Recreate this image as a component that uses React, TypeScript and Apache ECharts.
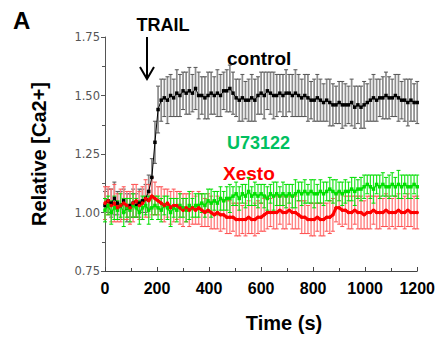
import React, { useEffect, useRef } from "react";
import * as echarts from "echarts";

const times: number[] = Array.from({ length: 101 }, (_, i) => i * 12);

const controlMean = [
  1.03, 1.05, 1.04, 1.06, 1.04, 1.03, 1.05, 1.02, 1.03, 1.04,
  1.03, 1.04, 1.05, 1.06, 1.09, 1.15, 1.30, 1.44, 1.48, 1.49,
  1.48, 1.50, 1.49, 1.51, 1.50, 1.52, 1.51, 1.52, 1.51, 1.53,
  1.50, 1.50, 1.49, 1.50, 1.51, 1.50, 1.51, 1.50, 1.52, 1.52,
  1.53, 1.51, 1.49, 1.48, 1.49, 1.48, 1.48, 1.49, 1.48, 1.50,
  1.51, 1.50, 1.52, 1.51, 1.50, 1.50, 1.51, 1.50, 1.51, 1.51,
  1.50, 1.51, 1.50, 1.49, 1.50, 1.49, 1.48, 1.48, 1.49, 1.48,
  1.47, 1.48, 1.47, 1.46, 1.46, 1.47, 1.46, 1.46, 1.46, 1.47,
  1.45, 1.46, 1.45, 1.46, 1.47, 1.48, 1.49, 1.48, 1.49, 1.49,
  1.50, 1.49, 1.49, 1.50, 1.49, 1.48, 1.48, 1.47, 1.48, 1.47,
  1.47,
];
const controlErr = [
  0.06, 0.05, 0.06, 0.07, 0.05, 0.06, 0.05, 0.06, 0.05, 0.06,
  0.05, 0.06, 0.05, 0.06, 0.07, 0.08, 0.09, 0.10, 0.09, 0.08,
  0.10, 0.09, 0.08, 0.10, 0.09, 0.08, 0.09, 0.10, 0.08, 0.09,
  0.10, 0.08, 0.09, 0.10, 0.09, 0.08, 0.10, 0.09, 0.08, 0.09,
  0.10, 0.09, 0.08, 0.09, 0.10, 0.08, 0.09, 0.10, 0.09, 0.08,
  0.09, 0.10, 0.08, 0.09, 0.10, 0.09, 0.08, 0.09, 0.10, 0.08,
  0.09, 0.10, 0.09, 0.08, 0.09, 0.10, 0.08, 0.09, 0.10, 0.09,
  0.08, 0.09, 0.10, 0.09, 0.08, 0.09, 0.10, 0.09, 0.08, 0.10,
  0.09, 0.08, 0.09, 0.10, 0.08, 0.09, 0.10, 0.09, 0.08, 0.09,
  0.10, 0.09, 0.08, 0.09, 0.10, 0.08, 0.09, 0.10, 0.09, 0.08,
  0.09,
];

const u73122Mean = [
  1.01, 1.03, 1.00, 1.02, 1.01, 1.03, 1.00, 1.02, 1.01, 1.03,
  1.02, 1.00, 1.02, 1.03, 1.01, 1.02, 1.03, 1.02, 1.01, 1.03,
  1.02, 1.00, 1.02, 1.01, 1.03, 1.02, 1.01, 1.03, 1.02, 1.03,
  1.03, 1.04, 1.03, 1.05, 1.04, 1.05, 1.04, 1.06, 1.05, 1.06,
  1.06, 1.07, 1.08, 1.06, 1.08, 1.07, 1.09, 1.07, 1.08, 1.07,
  1.08, 1.07, 1.06, 1.08, 1.07, 1.08, 1.07, 1.08, 1.07, 1.08,
  1.07, 1.08, 1.09, 1.08, 1.09, 1.08, 1.09, 1.08, 1.08, 1.09,
  1.08, 1.09, 1.10, 1.09, 1.08, 1.09, 1.08, 1.09, 1.09, 1.10,
  1.09, 1.10, 1.10, 1.11, 1.12, 1.11, 1.10, 1.12, 1.11, 1.12,
  1.11, 1.11, 1.12, 1.11, 1.12, 1.11, 1.12, 1.11, 1.11, 1.12,
  1.11,
];
const u73122Err = [
  0.05, 0.04, 0.05, 0.05, 0.04, 0.05, 0.06, 0.04, 0.05, 0.05,
  0.04, 0.05, 0.05, 0.04, 0.06, 0.05, 0.04, 0.05, 0.05, 0.04,
  0.05, 0.06, 0.04, 0.05, 0.05, 0.04, 0.05, 0.06, 0.04, 0.05,
  0.05, 0.04, 0.05, 0.05, 0.06, 0.04, 0.05, 0.05, 0.04, 0.05,
  0.06, 0.04, 0.05, 0.05, 0.04, 0.05, 0.06, 0.04, 0.05, 0.05,
  0.04, 0.05, 0.05, 0.04, 0.06, 0.05, 0.04, 0.05, 0.05, 0.04,
  0.05, 0.06, 0.04, 0.05, 0.05, 0.04, 0.05, 0.06, 0.04, 0.05,
  0.05, 0.04, 0.05, 0.05, 0.06, 0.04, 0.05, 0.05, 0.04, 0.05,
  0.06, 0.04, 0.05, 0.05, 0.04, 0.05, 0.06, 0.04, 0.05, 0.05,
  0.04, 0.05, 0.05, 0.04, 0.06, 0.05, 0.04, 0.05, 0.05, 0.04,
  0.05,
];

const xestoMean = [
  1.04, 1.05, 1.03, 1.04, 1.02, 1.03, 1.04, 1.03, 1.02, 1.04,
  1.05, 1.03, 1.04, 1.06, 1.05, 1.07, 1.06, 1.05, 1.04, 1.03,
  1.04, 1.02, 1.03, 1.03, 1.02, 1.01, 1.02, 1.01, 1.02, 1.01,
  1.02, 1.01, 1.00, 1.01, 1.00, 0.99, 1.00, 0.99, 0.99, 0.98,
  0.98, 0.98, 0.97, 0.97, 0.97, 0.97, 0.98, 0.97, 0.97, 0.98,
  0.98, 0.99, 1.00, 1.00, 1.00, 1.00, 1.01, 1.00, 1.00, 1.01,
  1.00, 1.00, 0.99, 0.98, 0.98, 0.97, 0.97, 0.97, 0.98, 0.97,
  0.97, 0.98, 0.98, 0.99, 1.02, 1.02, 1.01, 1.01, 1.00, 1.00,
  1.01, 1.00, 1.00, 0.99, 1.00, 1.00, 1.01, 1.00, 1.00, 1.00,
  1.01, 1.00, 1.00, 1.00, 1.01, 1.00, 1.00, 1.01, 1.00, 1.00,
  1.00,
];
const xestoErr = [
  0.07, 0.06, 0.07, 0.08, 0.06, 0.07, 0.07, 0.06, 0.07, 0.08,
  0.07, 0.06, 0.07, 0.08, 0.07, 0.08, 0.07, 0.06, 0.07, 0.07,
  0.06, 0.07, 0.07, 0.06, 0.07, 0.07, 0.06, 0.07, 0.07, 0.06,
  0.07, 0.07, 0.06, 0.07, 0.07, 0.06, 0.07, 0.07, 0.06, 0.07,
  0.07, 0.06, 0.07, 0.07, 0.06, 0.07, 0.07, 0.06, 0.07, 0.07,
  0.06, 0.07, 0.07, 0.06, 0.07, 0.07, 0.06, 0.07, 0.07, 0.06,
  0.07, 0.07, 0.06, 0.07, 0.07, 0.06, 0.07, 0.07, 0.06, 0.07,
  0.07, 0.06, 0.07, 0.07, 0.06, 0.07, 0.07, 0.06, 0.07, 0.07,
  0.06, 0.07, 0.07, 0.06, 0.07, 0.07, 0.06, 0.07, 0.07, 0.06,
  0.07, 0.07, 0.06, 0.07, 0.07, 0.06, 0.07, 0.07, 0.06, 0.07,
  0.07,
];

const seriesNames = ["control", "U73122", "Xesto"];
const xTickLabels = ["0", "200", "400", "600", "800", "1000", "1200"];

function errData(mean: number[], err: number[]) {
  return times.map((t, i) => [t, mean[i] - err[i], mean[i] + err[i]]);
}
function lineData(mean: number[]) {
  return times.map((t, i) => [t, mean[i]]);
}

function errSeries(name: string, data: number[][], color: string, width: number, capColor: string) {
  return {
    type: "custom",
    name: name + " err",
    data,
    encode: { x: 0, y: [1, 2] },
    silent: true,
    renderItem: (params: any, api: any) => {
      const x = api.value(0);
      const lo = api.coord([x, api.value(1)]);
      const hi = api.coord([x, api.value(2)]);
      const hw = 2;
      const style = { stroke: color, lineWidth: width };
      const capStyle = { stroke: capColor, lineWidth: 1 };
      return {
        type: "group",
        children: [
          { type: "line", shape: { x1: lo[0], y1: lo[1], x2: hi[0], y2: hi[1] }, style },
          { type: "line", shape: { x1: hi[0] - hw, y1: hi[1], x2: hi[0] + hw, y2: hi[1] }, style: capStyle },
          { type: "line", shape: { x1: lo[0] - hw, y1: lo[1], x2: lo[0] + hw, y2: lo[1] }, style: capStyle },
        ],
      };
    },
  };
}

export default function App() {
  const ref = useRef<HTMLDivElement>(null);
  useEffect(() => {
    document.body.style.margin = "0";
    if (!ref.current) return;
    const chart = echarts.init(ref.current, undefined, { renderer: "svg" });
    const bold = "Liberation Sans";
    chart.setOption({
      animation: false,
      grid: { left: 105, right: 19, top: 37, bottom: 69 },
      xAxis: {
        type: "value",
        min: 0,
        max: 1200,
        interval: 200,
        axisLine: { lineStyle: { color: "#444", width: 1 } },
        axisTick: { inside: true, length: 4, lineStyle: { color: "#444" } },
        minorTick: { show: true, splitNumber: 2, length: 3, lineStyle: { color: "#444" } },
        splitLine: { show: false },
        axisLabel: {
          color: "#000",
          fontFamily: bold,
          fontWeight: "bold",
          fontSize: 16,
          margin: 9,
          formatter: (v: number) => xTickLabels[Math.round(v / 200)] ?? String(v),
        },
      },
      yAxis: {
        type: "value",
        min: 0.75,
        max: 1.75,
        interval: 0.25,
        name: "Relative [Ca2+]",
        nameLocation: "middle",
        nameGap: 56,
        nameTextStyle: { color: "#000", fontFamily: bold, fontWeight: "bold", fontSize: 20 },
        axisLine: { show: true, lineStyle: { color: "#555", width: 1 } },
        axisTick: { show: true, length: 4, lineStyle: { color: "#555" } },
        minorTick: { show: true, splitNumber: 2, length: 3, lineStyle: { color: "#555" } },
        splitLine: { show: false },
        axisLabel: {
          color: "#555",
          fontFamily: "DejaVu Sans",
          fontSize: 11.5,
          margin: 5,
          formatter: (v: number) => v.toFixed(2),
        },
      },
      series: [
        errSeries(seriesNames[0], errData(controlMean, controlErr), "#8c8c8c", 1.7, "#555"),
        {
          type: "line",
          name: seriesNames[0],
          data: lineData(controlMean),
          symbol: "rect",
          symbolSize: 3.5,
          itemStyle: { color: "#000" },
          lineStyle: { color: "#000", width: 1 },
          silent: true,
        },
        errSeries(seriesNames[2], errData(xestoMean, xestoErr), "#ff8484", 1.4, "#ff5050"),
        errSeries(seriesNames[1], errData(u73122Mean, u73122Err), "#22e622", 1.2, "#00dd00"),
        {
          type: "line",
          name: seriesNames[1],
          data: lineData(u73122Mean),
          symbol: "rect",
          symbolSize: 3.5,
          itemStyle: { color: "#00e000" },
          lineStyle: { color: "#00e000", width: 1.5 },
          silent: true,
        },
        {
          type: "line",
          name: seriesNames[2],
          data: lineData(xestoMean),
          symbol: "circle",
          symbolSize: 3.5,
          itemStyle: { color: "#ff0000" },
          lineStyle: { color: "#ff0000", width: 3 },
          silent: true,
        },
      ],
      graphic: [
        {
          type: "text",
          x: 13,
          y: 8,
          style: { text: "A", font: "bold 24px 'Liberation Sans'", fill: "#000" },
        },
        {
          type: "text",
          x: 163,
          y: 25,
          style: {
            text: "TRAIL",
            font: "bold 18px 'Liberation Sans'",
            fill: "#000",
            align: "center",
            verticalAlign: "middle",
          },
        },
        {
          type: "line",
          shape: { x1: 147, y1: 37, x2: 147, y2: 79 },
          style: { stroke: "#000", lineWidth: 2 },
        },
        {
          type: "polyline",
          shape: { points: [[140, 67], [147, 79], [154, 67]] },
          style: { stroke: "#000", lineWidth: 2, fill: null },
        },
        {
          type: "text",
          x: 227,
          y: 58,
          style: {
            text: "control",
            font: "bold 19px 'Liberation Sans'",
            fill: "#000",
            verticalAlign: "middle",
          },
        },
        {
          type: "text",
          x: 227,
          y: 143,
          style: {
            text: "U73122",
            font: "bold 18px 'Liberation Sans'",
            fill: "#00c060",
            verticalAlign: "middle",
          },
        },
        {
          type: "text",
          x: 223,
          y: 173,
          style: {
            text: "Xesto",
            font: "bold 19px 'Liberation Sans'",
            fill: "#ff0000",
            verticalAlign: "middle",
          },
        },
        {
          type: "text",
          x: 284,
          y: 323,
          style: {
            text: "Time (s)",
            font: "bold 20px 'Liberation Sans'",
            fill: "#000",
            align: "center",
            verticalAlign: "middle",
          },
        },
      ],
    });
    return () => chart.dispose();
  }, []);
  return <div ref={ref} style={{ width: 438, height: 340 }} />;
}
